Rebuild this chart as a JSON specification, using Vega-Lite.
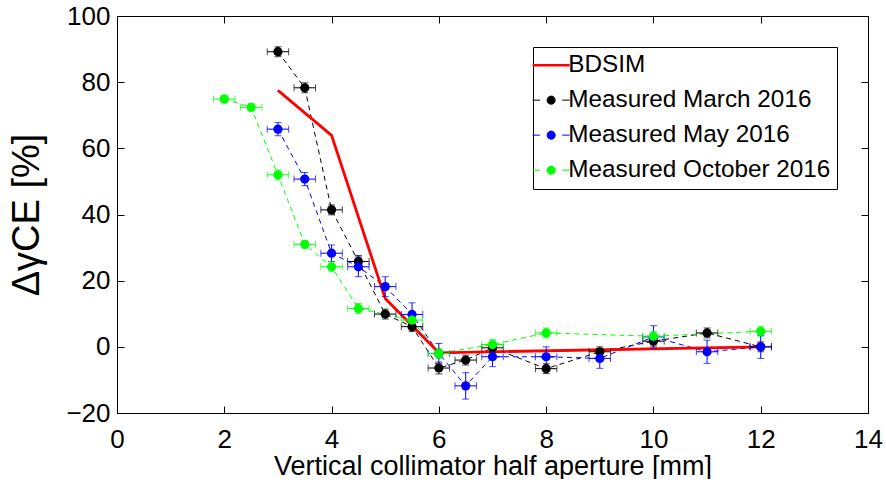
{
  "$schema": "https://vega.github.io/schema/vega-lite/v6.json",
  "width": 751,
  "height": 397,
  "padding": {"left": 8, "top": 3, "right": 5, "bottom": 0},
  "background": "#ffffff",
  "config": {
    "view": {"stroke": "#000000", "strokeWidth": 1},
    "font": "Liberation Sans",
    "axis": {
      "grid": false,
      "domainColor": "#000000",
      "tickColor": "#000000",
      "tickSize": -7,
      "labelFont": "Liberation Sans",
      "labelFontSize": 26,
      "labelColor": "#000000",
      "titleFont": "Liberation Sans",
      "titleFontWeight": "normal",
      "titleColor": "#000000",
      "labelFlush": false
    }
  },
  "data": {
    "values": [
      {"s": "BDSIM", "x": 3, "y": 77.5},
      {"s": "BDSIM", "x": 4, "y": 63.9},
      {"s": "BDSIM", "x": 5, "y": 14.6},
      {"s": "BDSIM", "x": 6, "y": -1.8},
      {"s": "BDSIM", "x": 12, "y": 0},
      {"s": "Measured March 2016", "x": 3, "y": 89.2, "ey": 1.5, "ex": 0.2},
      {"s": "Measured March 2016", "x": 3.5, "y": 78.3, "ey": 1.5, "ex": 0.2},
      {"s": "Measured March 2016", "x": 4, "y": 41.4, "ey": 1.5, "ex": 0.2},
      {"s": "Measured March 2016", "x": 4.5, "y": 25.8, "ey": 1.8, "ex": 0.2},
      {"s": "Measured March 2016", "x": 5, "y": 9.9, "ey": 1.5, "ex": 0.2},
      {"s": "Measured March 2016", "x": 5.5, "y": 6.1, "ey": 1.5, "ex": 0.2},
      {"s": "Measured March 2016", "x": 6, "y": -6.4, "ey": 1.8, "ex": 0.2},
      {"s": "Measured March 2016", "x": 6.5, "y": -4.0, "ey": 1.5, "ex": 0.2},
      {"s": "Measured March 2016", "x": 7, "y": -0.3, "ey": 1.5, "ex": 0.2},
      {"s": "Measured March 2016", "x": 8, "y": -6.6, "ey": 1.5, "ex": 0.2},
      {"s": "Measured March 2016", "x": 9, "y": -1.5, "ey": 1.5, "ex": 0.2},
      {"s": "Measured March 2016", "x": 10, "y": 1.7, "ey": 1.5, "ex": 0.2},
      {"s": "Measured March 2016", "x": 11, "y": 4.2, "ey": 1.5, "ex": 0.2},
      {"s": "Measured March 2016", "x": 12, "y": 0, "ey": 1.5, "ex": 0.2},
      {"s": "Measured May 2016", "x": 3, "y": 65.8, "ey": 2, "ex": 0.2},
      {"s": "Measured May 2016", "x": 3.5, "y": 50.7, "ey": 2, "ex": 0.2},
      {"s": "Measured May 2016", "x": 4, "y": 28.3, "ey": 2.5, "ex": 0.2},
      {"s": "Measured May 2016", "x": 4.5, "y": 24.2, "ey": 3, "ex": 0.2},
      {"s": "Measured May 2016", "x": 5, "y": 18.2, "ey": 3, "ex": 0.2},
      {"s": "Measured May 2016", "x": 5.5, "y": 9.8, "ey": 3.5, "ex": 0.2},
      {"s": "Measured May 2016", "x": 6, "y": -2, "ey": 3, "ex": 0.2},
      {"s": "Measured May 2016", "x": 6.5, "y": -11.8, "ey": 4, "ex": 0.2},
      {"s": "Measured May 2016", "x": 7, "y": -3.0, "ey": 3, "ex": 0.2},
      {"s": "Measured May 2016", "x": 8, "y": -3.0, "ey": 3, "ex": 0.2},
      {"s": "Measured May 2016", "x": 9, "y": -3.5, "ey": 3, "ex": 0.2},
      {"s": "Measured May 2016", "x": 10, "y": 3.0, "ey": 3.4, "ex": 0.2},
      {"s": "Measured May 2016", "x": 11, "y": -1.5, "ey": 3.5, "ex": 0.2},
      {"s": "Measured May 2016", "x": 12, "y": 0, "ey": 3.5, "ex": 0.2},
      {"s": "Measured October 2016", "x": 2, "y": 74.9, "ey": 1.2, "ex": 0.2},
      {"s": "Measured October 2016", "x": 2.5, "y": 72.4, "ey": 1.2, "ex": 0.2},
      {"s": "Measured October 2016", "x": 3, "y": 52, "ey": 1.5, "ex": 0.2},
      {"s": "Measured October 2016", "x": 3.5, "y": 31, "ey": 1.2, "ex": 0.2},
      {"s": "Measured October 2016", "x": 4, "y": 24.2, "ey": 1.5, "ex": 0.2},
      {"s": "Measured October 2016", "x": 4.5, "y": 11.6, "ey": 1.5, "ex": 0.2},
      {"s": "Measured October 2016", "x": 5.5, "y": 8.1, "ey": 1.5, "ex": 0.2},
      {"s": "Measured October 2016", "x": 6, "y": -2, "ey": 1.5, "ex": 0.2},
      {"s": "Measured October 2016", "x": 7, "y": 0.7, "ey": 1.5, "ex": 0.2},
      {"s": "Measured October 2016", "x": 8, "y": 4.2, "ey": 1.5, "ex": 0.2},
      {"s": "Measured October 2016", "x": 10, "y": 3.2, "ey": 1.5, "ex": 0.2},
      {"s": "Measured October 2016", "x": 12, "y": 4.7, "ey": 1.5, "ex": 0.2}
    ]
  },
  "encoding": {
    "x": {
      "field": "x", "type": "quantitative",
      "scale": {"domain": [0, 14], "nice": false, "zero": false},
      "axis": {"values": [0, 2, 4, 6, 8, 10, 12, 14], "title": "Vertical collimator half aperture [mm]", "titleFontSize": 27, "labelPadding": 20, "titlePadding": 1}
    },
    "y": {
      "field": "y", "type": "quantitative",
      "scale": {"domain": [-20, 100], "nice": false, "zero": false},
      "axis": {"values": [-20, 0, 20, 40, 60, 80, 100], "title": "ΔγCE [%]", "titleFontSize": 38, "labelPadding": 14, "titlePadding": 19}
    },
    "color": {
      "field": "s", "type": "nominal",
      "scale": {
        "domain": ["BDSIM", "Measured March 2016", "Measured May 2016", "Measured October 2016"],
        "range": ["#ff0000", "#000000", "#0000ff", "#00ff00"]
      },
      "legend": {
        "title": null,
        "orient": "top-right",
        "offset": 31,
        "strokeColor": "#000000",
        "fillColor": "#ffffff",
        "padding": 6,
        "labelFont": "Liberation Sans",
        "labelFontSize": 24.3,
        "labelColor": "#000000",
        "labelLimit": 400,
        "symbolSize": 1369,
        "rowPadding": 10,
        "labelOffset": 5,
        "encode": {
          "symbols": {
            "update": {
              "shape": {"signal": "datum.value === 'BDSIM' ? 'M-1,0H1' : 'M-1,0H-0.6M0.6,0H1M-0.22,0A0.22,0.22 0 1,0 0.22,0A0.22,0.22 0 1,0 -0.22,0Z'"},
              "strokeWidth": {"signal": "datum.value === 'BDSIM' ? 2.5 : 1"},
              "fill": {"signal": "datum.value === 'BDSIM' ? 'transparent' : scale('color', datum.value)"},
              "stroke": {"signal": "scale('color', datum.value)"},
              "opacity": {"value": 1},
              "fillOpacity": {"value": 1},
              "strokeDash": {"value": []}
            }
          }
        }
      }
    }
  },
  "layer": [
    {
      "layer": [
        {
          "transform": [{"filter": "datum.s !== 'BDSIM'"}],
          "mark": {"type": "line", "strokeWidth": 1, "strokeDash": [5, 4]}
        },
        {
          "transform": [{"filter": "datum.s === 'BDSIM'"}],
          "mark": {"type": "line", "strokeWidth": 2.8}
        },
        {
          "transform": [{"filter": "datum.s !== 'BDSIM'"}],
          "mark": {"type": "errorbar", "ticks": {"size": 7}, "rule": {"strokeWidth": 1}},
          "encoding": {"xError": {"field": "ex"}}
        },
        {
          "transform": [{"filter": "datum.s !== 'BDSIM'"}],
          "mark": {"type": "errorbar", "ticks": {"size": 7}, "rule": {"strokeWidth": 1}},
          "encoding": {"yError": {"field": "ey"}}
        },
        {
          "transform": [{"filter": "datum.s !== 'BDSIM'"}],
          "mark": {"type": "point", "filled": true, "size": 85, "opacity": 1}
        }
      ]
    },
    {
      "transform": [{"filter": "datum.s === 'BDSIM'"}],
      "mark": {"type": "line", "opacity": 0},
      "encoding": {
        "x": {
          "field": "x", "type": "quantitative",
          "scale": {"domain": [0, 14], "nice": false, "zero": false},
          "axis": {"orient": "top", "values": [0, 2, 4, 6, 8, 10, 12, 14], "labels": false, "title": null, "tickSize": -7}
        },
        "y": {
          "field": "y", "type": "quantitative",
          "scale": {"domain": [-20, 100], "nice": false, "zero": false},
          "axis": {"orient": "right", "values": [-20, 0, 20, 40, 60, 80, 100], "labels": false, "title": null, "tickSize": -7}
        }
      }
    }
  ],
  "resolve": {"axis": {"x": "independent", "y": "independent"}}
}
